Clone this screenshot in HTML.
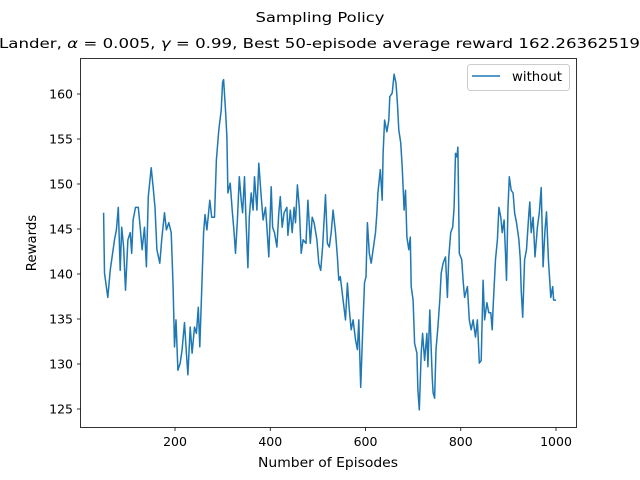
<!DOCTYPE html>
<html><head><meta charset="utf-8"><style>
body{margin:0;background:#fff;}
svg{display:block;font-family:"DejaVu Sans","Liberation Sans",sans-serif;}
</style></head><body>
<svg id="chart" width="640" height="480" viewBox="0 0 640 480" xmlns="http://www.w3.org/2000/svg">
<text x="320" y="22" text-anchor="middle" font-size="13.3" textLength="129" lengthAdjust="spacingAndGlyphs">Sampling Policy</text>
<text x="-1" y="48" font-size="13.3" textLength="641" lengthAdjust="spacingAndGlyphs">Lander, <tspan font-style="italic">α</tspan> = 0.005, <tspan font-style="italic">γ</tspan> = 0.99, Best 50-episode average reward 162.26362519</text>
<g id="xticks"></g>
<g id="yticks"></g>
<polyline id="series" fill="none" stroke="#1f77b4" stroke-width="1.5" stroke-linejoin="round"></polyline>
<rect x="80.5" y="58.5" width="496" height="369" fill="none" stroke="#000" stroke-width="0.8"/>
<text x="328" y="467" text-anchor="middle" font-size="13.3" textLength="140" lengthAdjust="spacingAndGlyphs">Number of Episodes</text>
<text transform="translate(36,243) rotate(-90)" text-anchor="middle" font-size="13.3">Rewards</text>
<g>
<rect x="467.5" y="64.5" width="102" height="26" rx="3" fill="#fff" stroke="#ccc" stroke-width="1"/>
<line x1="472" y1="76" x2="500" y2="76" stroke="#1f77b4" stroke-width="1.5"/>
<text x="512" y="81" font-size="13.3">without</text>
</g>
</svg>
<script>
const episodes=[50,52,59,64,68,73,77,81,85,88,92,96,101,106,109,112,117,123,127,131,136,140,144,150,154,158,162,168,172,178,182,187,192,196,199,202,206,211,215,220,224,227,232,236,241,245,249,252,256,260,263,267,273,277,283,287,292,297,300,
302,306,309,311,316,320,324,327,331,335,339,342,346,349,353,356,360,364,367,372,376,381,385,390,393,397,402,405,409,414,418,421,425,429,435,437,442,446,450,453,457,461,465,469,475,479,484,488,492,498,502,506,510,516,520,524,528,532,537,541,544,
547,553,558,562,566,570,574,579,583,586,590,594,598,601,604,608,612,616,621,624,626,631,635,637,640,645,649,651,656,660,664,667,670,674,677,681,684,687,691,694,696,700,703,708,710,713,717,720,724,729,731,735,740,742,745,748,752,756,759,763,768,772,775,779,783,786,789,792,794,797,
802,805,808,814,818,822,826,831,835,839,843,847,850,855,859,863,866,868,873,877,880,884,887,891,894,896,899,902,906,910,913,917,922,925,927,930,934,938,943,945,948,952,956,961,965,969,973,977,980,984,989,993,995,1000];
const rewards=[146.8,140.1,137.4,140.4,141.9,143.8,144.9,147.4,140.4,145.2,143,138.2,143.8,144.6,142.3,146,147.4,147.4,145.2,142.7,145.2,140.8,148.6,151.8,149.7,147.4,142.7,141.2,143.8,146.8,144.9,145.7,144.6,138.6,131.9,134.9,129.3,130.1,131.6,134.6,131.2,128.8,134.1,131.2,134.1,133.4,136.3,131.9,138.2,144.6,146.6,144.9,148.2,146.3,146.3,152.7,156,158.2,161.3,
161.6,158.2,155.2,149,150.1,147.1,144.6,142.3,146,150.8,148.2,146.8,150.8,146,140.7,146.3,149,147.1,150.8,147.1,152.3,148.6,146,147.4,145.2,141.9,149.7,145.2,144.6,143,146.8,148.6,145.2,146.8,147.4,144.3,147.1,144.6,147.4,145.7,149.9,147.4,142.3,143.8,143.4,148.2,143.4,146.3,145.7,143.8,141.2,140.4,143,148.8,143.4,143,144.6,147.1,144.6,141.9,139.3,
139.7,137.1,134.9,139,136,133.8,134.9,132.7,131.6,134.9,127.4,133.4,139,139.7,145.7,142.3,141.2,142.7,144.6,146.8,149,151.6,148.2,153.4,157.1,155.8,157.1,159.7,160.1,162.2,161.2,159,156,154.6,151.9,147.1,149.3,144.1,142.7,144.1,138.6,137.1,132.3,131.2,127.1,124.9,131.2,133.4,130.4,133.4,129.7,136,128.6,126.8,126.2,131.6,134.1,137.1,140.1,141.2,141.9,137.4,141.9,144.6,145.2,147.4,153.4,153,154.1,142.3,
141.6,139.3,137.4,138.6,134.9,133.8,134.9,133,134.9,130.1,130.4,139.3,134.9,136.8,135.7,135.7,133.8,136.3,141.6,143.8,147.4,146.3,144.6,146,142.3,139.3,147.1,150.8,149.3,149,146.8,145.7,143.8,141.6,138.2,135.2,141.6,142.7,146.8,148,144.6,146.3,141.9,145.2,146.8,149.6,140.8,144.9,146.9,141.6,137.4,138.6,137.1,137.1];
const xTicks=[200,400,600,800,1000];
const yTicks=[125,130,135,140,145,150,155,160];
function X(v){return 175+(v-200)*0.47625;}
function Y(v){return 94+(160-v)*9;}
const NS='http://www.w3.org/2000/svg';
const xg=document.getElementById('xticks'),yg=document.getElementById('yticks');
xTicks.forEach(t=>{
  const l=document.createElementNS(NS,'line');
  
  
  l.setAttribute('x1',X(t));l.setAttribute('x2',X(t));l.setAttribute('y1',427.5);l.setAttribute('y2',431);
  l.setAttribute('stroke','#000');l.setAttribute('stroke-width','0.8');xg.appendChild(l);
  const tx=document.createElementNS(NS,'text');
  
  
  tx.setAttribute('x',X(t));tx.setAttribute('y',446);tx.setAttribute('text-anchor','middle');tx.setAttribute('font-size','12.5');
  tx.textContent=t;xg.appendChild(tx);
});
yTicks.forEach(t=>{
  const l=document.createElementNS(NS,'line');
  
  
  l.setAttribute('x1',77);l.setAttribute('x2',80.5);l.setAttribute('y1',Y(t));l.setAttribute('y2',Y(t));
  l.setAttribute('stroke','#000');l.setAttribute('stroke-width','0.8');yg.appendChild(l);
  const tx=document.createElementNS(NS,'text');
  
  
  tx.setAttribute('x',73);tx.setAttribute('y',Y(t)+4.5);tx.setAttribute('text-anchor','end');tx.setAttribute('font-size','12.5');
  tx.textContent=t;yg.appendChild(tx);
});
document.getElementById('series').setAttribute('points',episodes.map((e,i)=>X(e).toFixed(1)+','+Y(rewards[i]).toFixed(1)).join(' '));
</script>
</body></html>
